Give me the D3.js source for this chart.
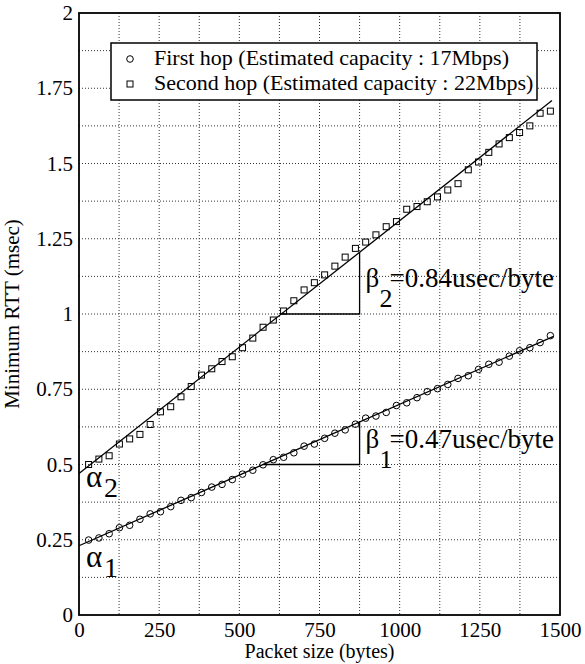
<!DOCTYPE html>
<html>
  <head>
    <meta charset="utf-8">
    <title></title>
    <script src="https://d3js.org/d3.v7.min.js"></script>
    <style>
      body {
        margin: 0;
        background-color: white;
      }

      .grid line {
        stroke: #333;
        stroke-width: 1;
        stroke-dasharray: 1,2;
      }
    </style>
  </head>

  <body>
    <div id="chart"></div>
    <script>

    var serif = "'Liberation Serif', 'Times New Roman', Times, 'DejaVu Serif', serif";

    // packet sizes (bytes) used for both hops
    var sizes = [30, 62, 94, 126, 158, 190, 222, 254, 286, 318, 350, 382, 414, 446, 478,
      510, 542, 574, 606, 638, 670, 702, 734, 766, 798, 830, 862, 894, 926, 958, 990,
      1022, 1054, 1086, 1118, 1150, 1182, 1214, 1246, 1278, 1310, 1342, 1374, 1406, 1438, 1470];

    // minimum RTT (msec)
    var firstHop = [0.249, 0.256, 0.270, 0.290, 0.298, 0.318, 0.336, 0.343, 0.360, 0.381,
      0.390, 0.407, 0.425, 0.434, 0.450, 0.468, 0.481, 0.499, 0.516, 0.524, 0.539, 0.561,
      0.568, 0.587, 0.604, 0.615, 0.634, 0.654, 0.661, 0.673, 0.696, 0.705, 0.722, 0.742,
      0.752, 0.766, 0.786, 0.795, 0.816, 0.833, 0.840, 0.860, 0.878, 0.888, 0.905, 0.928];

    var secondHop = [0.500, 0.518, 0.529, 0.568, 0.585, 0.600, 0.633, 0.675, 0.692, 0.725,
      0.759, 0.797, 0.818, 0.842, 0.858, 0.888, 0.920, 0.956, 0.980, 1.010, 1.044, 1.080,
      1.104, 1.130, 1.159, 1.189, 1.218, 1.239, 1.263, 1.290, 1.307, 1.348, 1.357, 1.373,
      1.389, 1.412, 1.433, 1.479, 1.505, 1.537, 1.565, 1.586, 1.603, 1.625, 1.667, 1.674];

    var legendLabels = ['First hop (Estimated capacity : 17Mbps)',
      'Second hop (Estimated capacity : 22Mbps)'];

    // fitted lines: intercept alpha (msec), slope beta (msec/byte), x extent
    var alpha = [0.23, 0.47];
    var beta = [0.00047, 0.00084];
    var lineEnd = [1480, 1475];
    var slopeLabels = ['0.47usec/byte', '0.84usec/byte'];
    var triRight = 875;
    var triBase = [0.5, 1.0];

    var xTicks = [0, 250, 500, 750, 1000, 1250, 1500];
    var xTickLabels = ['0', '250', '500', '750', '1000', '1250', '1500'];
    var yTicks = [0, 0.25, 0.5, 0.75, 1, 1.25, 1.5, 1.75, 2];
    var yTickLabels = ['0', '0.25', '0.5', '0.75', '1', '1.25', '1.5', '1.75', '2'];

    var margin = { top: 13, right: 25, bottom: 49, left: 79 };
    var totalWidth = 585, totalHeight = 664;
    var width = totalWidth - margin.left - margin.right;
    var height = totalHeight - margin.top - margin.bottom;

    var svg = d3.select('#chart').append('svg')
      .attr('width', totalWidth)
      .attr('height', totalHeight)
      .attr('font-family', serif)
      .style('background', 'white');

    var g = svg.append('g')
      .attr('transform', 'translate(' + margin.left + ',' + margin.top + ')');

    var xScale = d3.scaleLinear().domain([0, 1500]).range([0, width]);
    var yScale = d3.scaleLinear().domain([0, 2]).range([height, 0]);

    // dotted grid every half tick
    var grid = g.append('g').attr('class', 'grid');
    grid.selectAll('.gx')
      .data(d3.range(125, 1500, 125))
      .enter().append('line')
      .attr('x1', function(d) { return xScale(d); })
      .attr('x2', function(d) { return xScale(d); })
      .attr('y1', 0)
      .attr('y2', height);
    grid.selectAll('.gy')
      .data(d3.range(0.125, 2, 0.125))
      .enter().append('line')
      .attr('y1', function(d) { return yScale(d); })
      .attr('y2', function(d) { return yScale(d); })
      .attr('x1', 0)
      .attr('x2', width);

    // axes (labels only, frame drawn separately)
    var xAxis = d3.axisBottom(xScale)
      .tickValues(xTicks)
      .tickSize(0)
      .tickPadding(7)
      .tickFormat(function(d, i) { return xTickLabels[i]; });
    var xGuide = g.append('g')
      .attr('transform', 'translate(0,' + height + ')')
      .call(xAxis);

    var yAxis = d3.axisLeft(yScale)
      .tickValues(yTicks)
      .tickSize(0)
      .tickPadding(6)
      .tickFormat(function(d, i) { return yTickLabels[i]; });
    var yGuide = g.append('g').call(yAxis);

    [xGuide, yGuide].forEach(function(ax) {
      ax.attr('font-family', serif).attr('font-size', 21);
      ax.select('.domain').remove();
      ax.selectAll('text').attr('fill', 'black');
    });

    // fitted lines
    var line = d3.line()
      .x(function(d) { return xScale(d[0]); })
      .y(function(d) { return yScale(d[1]); });

    [0, 1].forEach(function(k) {
      g.append('path')
        .attr('d', line([[0, alpha[k]], [lineEnd[k], alpha[k] + beta[k] * lineEnd[k]]]))
        .attr('fill', 'none')
        .attr('stroke', 'black')
        .attr('stroke-width', 1.3);

      // slope triangle
      var xStart = (triBase[k] - alpha[k]) / beta[k];
      var yTop = alpha[k] + beta[k] * triRight;
      g.append('path')
        .attr('d', line([[xStart, triBase[k]], [triRight, triBase[k]], [triRight, yTop]]))
        .attr('fill', 'none')
        .attr('stroke', 'black')
        .attr('stroke-width', 1.3);
    });

    // markers
    g.selectAll('.hop1')
      .data(firstHop)
      .enter().append('circle')
      .attr('cx', function(d, i) { return xScale(sizes[i]); })
      .attr('cy', function(d) { return yScale(d); })
      .attr('r', 3.3)
      .attr('fill', 'none')
      .attr('stroke', 'black')
      .attr('stroke-width', 1);

    var sq = 6;
    g.selectAll('.hop2')
      .data(secondHop)
      .enter().append('rect')
      .attr('x', function(d, i) { return xScale(sizes[i]) - sq / 2; })
      .attr('y', function(d) { return yScale(d) - sq / 2; })
      .attr('width', sq)
      .attr('height', sq)
      .attr('fill', 'none')
      .attr('stroke', 'black')
      .attr('stroke-width', 1);

    // beta labels
    var betaDy = [10, 0];
    [0, 1].forEach(function(k) {
      var bx = xScale(triRight) + 6;
      var by = yScale(triBase[k]) - 27 + betaDy[k];
      g.append('text').attr('x', bx).attr('y', by)
        .attr('font-size', 27).text('\u03b2');
      g.append('text').attr('x', bx + 14).attr('y', by + 20)
        .attr('font-size', 26).text(k === 0 ? '1' : '2');
      g.append('text').attr('x', bx + 24).attr('y', by)
        .attr('font-size', 27).text('=' + slopeLabels[k]);
    });

    // alpha labels
    var alphaDy = [27, 22];
    [0, 1].forEach(function(k) {
      var ay = yScale(k === 0 ? 0.25 : 0.5) + alphaDy[k];
      g.append('text').attr('x', 7).attr('y', ay)
        .attr('font-size', 31).text('\u03b1');
      g.append('text').attr('x', 25).attr('y', ay + 10)
        .attr('font-size', 28).text(k === 0 ? '1' : '2');
    });

    // frame
    g.append('rect')
      .attr('width', width)
      .attr('height', height)
      .attr('fill', 'none')
      .attr('stroke', 'black')
      .attr('stroke-width', 1.8);

    // legend
    var legend = g.append('g').attr('transform', 'translate(' + (111 - margin.left) + ',' + (43 - margin.top) + ')');
    legend.append('rect')
      .attr('width', 426)
      .attr('height', 57)
      .attr('fill', 'white')
      .attr('stroke', 'black')
      .attr('stroke-width', 1.5);
    legend.append('circle')
      .attr('cx', 19).attr('cy', 16).attr('r', 3.3)
      .attr('fill', 'none').attr('stroke', 'black');
    legend.append('rect')
      .attr('x', 16).attr('y', 38).attr('width', sq).attr('height', sq)
      .attr('fill', 'none').attr('stroke', 'black');
    legend.selectAll('.lt')
      .data(legendLabels)
      .enter().append('text')
      .attr('x', 43)
      .attr('y', function(d, i) { return 22 + i * 25; })
      .attr('font-size', 22)
      .text(function(d) { return d; });

    // axis titles
    g.append('text')
      .attr('x', width / 2)
      .attr('y', height + 43)
      .attr('text-anchor', 'middle')
      .attr('font-size', 20)
      .text('Packet size (bytes)');

    g.append('text')
      .attr('transform', 'translate(' + (-60) + ',' + (height / 2) + ') rotate(-90)')
      .attr('text-anchor', 'middle')
      .attr('font-size', 21)
      .text('Minimum RTT (msec)');

    </script>
  </body>
</html>
